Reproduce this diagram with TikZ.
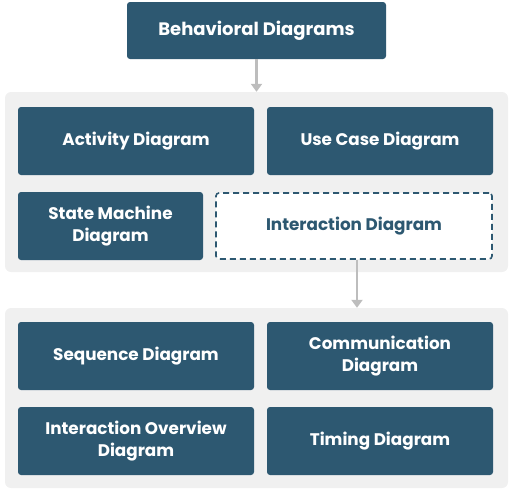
\documentclass[tikz,border=0pt]{standalone}
\usepackage{fontspec}
\setmainfont{Poppins}
\usetikzlibrary{arrows.meta}
\definecolor{boxblue}{HTML}{2D5871}
\definecolor{panelgray}{HTML}{F0F0F0}
\definecolor{arrowgray}{HTML}{BDBDBD}
\tikzset{
  blk/.style={fill=boxblue, rounded corners=3pt, text=white, font=\bfseries\fontsize{16.8}{22.5}\selectfont, align=center, inner sep=0pt, minimum height=68pt},
  dashblk/.style={draw=boxblue, dashed, dash pattern=on 6pt off 4pt, line width=1.6pt, fill=white, rounded corners=3pt, text=boxblue, font=\bfseries\fontsize{16.8}{22.5}\selectfont, align=center, inner sep=0pt, minimum height=66pt},
  panel/.style={fill=panelgray, rounded corners=6pt, minimum width=503pt, minimum height=180pt, inner sep=0pt},
  conn/.style={draw=arrowgray, line width=2.6pt, -{Triangle[length=8pt,width=11pt]}}
}
\begin{document}
\begin{tikzpicture}[x=1pt,y=-1pt]
\useasboundingbox (0,0) rectangle (510,490);
\node[panel] (p1) at (256.5,182) {};
\node[panel] (p2) at (256.5,398) {};
\node[blk, minimum width=259pt, minimum height=57pt, font=\bfseries\fontsize{18}{22}\selectfont] (top) at (256.5,30.5) {Behavioral Diagrams};
\node[blk, minimum width=236pt] (act) at (136,141) {Activity Diagram};
\node[blk, minimum width=226pt] (use) at (380,141) {Use Case Diagram};
\node[blk, minimum width=185pt] (sm) at (110.5,226) {State Machine\\Diagram};
\node[dashblk, minimum width=276pt] (inter) at (354,226) {Interaction Diagram};
\node[blk, minimum width=236pt] (seq) at (136,356) {Sequence Diagram};
\node[blk, minimum width=226pt] (com) at (380,356) {Communication\\Diagram};
\node[blk, minimum width=236pt] (ov) at (136,441) {Interaction Overview\\Diagram};
\node[blk, minimum width=226pt] (tim) at (380,441) {Timing Diagram};
\draw[conn] (top.south) -- (top.south |- p1.north);
\draw[conn] ([xshift=3pt]inter.south) -- ([xshift=3pt]inter.south |- p2.north);
\end{tikzpicture}
\end{document}
